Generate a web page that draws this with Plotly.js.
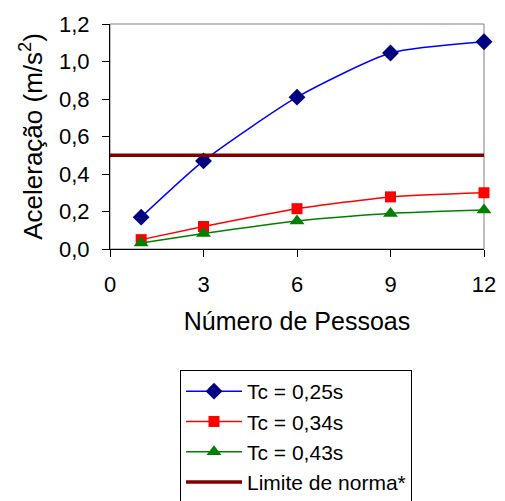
<!DOCTYPE html>
<html><head><meta charset="utf-8">
<script src="https://cdn.plot.ly/plotly-3.0.1.min.js"></script>
<style>body{margin:0;background:#fff}#c{width:505px;height:501px}</style>
</head><body><div id="c"></div>
<script>
const pessoas = [1, 3, 6, 9, 12];
const tc025 = [0.17, 0.47, 0.81, 1.045, 1.105];
const tc034 = [0.05, 0.12, 0.215, 0.278, 0.30];
const tc043 = [0.032, 0.083, 0.15, 0.19, 0.208];
const limiteX = [0, 12];
const limiteY = [0.5, 0.5];
const nomes = ['Tc = 0,25s', 'Tc = 0,34s', 'Tc = 0,43s', 'Limite de norma*'];

const F = 'Liberation Sans, Arial, sans-serif';
const traces = [
  {x: pessoas, y: tc025, name: nomes[0], mode: 'lines+markers', legendgroup: 'a',
   line: {color: '#0000FF', width: 1.5, shape: 'spline', smoothing: 0.6},
   marker: {symbol: 'diamond', size: 13, color: '#000080'}, cliponaxis: false},
  {x: pessoas, y: tc034, name: nomes[1], mode: 'lines+markers', legendgroup: 'b',
   line: {color: '#FF0000', width: 1.5, shape: 'spline', smoothing: 0.6},
   marker: {symbol: 'square', size: 11, color: '#FF0000'}, cliponaxis: false},
  {x: pessoas, y: tc043, name: nomes[2], mode: 'lines+markers', legendgroup: 'c',
   line: {color: '#008000', width: 1.5, shape: 'spline', smoothing: 0.6},
   marker: {symbol: 'triangle-up', size: 13, color: '#008000'}, cliponaxis: false},
  {x: limiteX, y: limiteY, name: nomes[3], mode: 'lines', legendgroup: 'd',
   line: {color: '#800000', width: 3.5}}
];
const layout = {
  width: 505, height: 501,
  margin: {l: 110, r: 21, t: 24, b: 252},
  paper_bgcolor: '#fff', plot_bgcolor: '#fff',
  separators: ',.',
  font: {family: F, color: '#000', size: 21},
  showlegend: true,
  legend: {x: (180 - 110) / 374, y: 1 - 370 / 501, xref: 'paper', yref: 'container',
    xanchor: 'left', yanchor: 'top',
    bordercolor: '#000', borderwidth: 1, bgcolor: '#fff',
    font: {family: F, size: 21}, traceorder: 'grouped', tracegroupgap: 0, itemwidth: 56},
  xaxis: {range: [0, 12], tickvals: [0, 3, 6, 9, 12], showgrid: false, zeroline: false,
    showline: true, linecolor: '#000', linewidth: 1, ticks: 'outside', ticklen: 7, tickcolor: '#000',
    ticklabelstandoff: 9,
    tickfont: {size: 22}, title: {text: 'Número de Pessoas', font: {size: 25}, standoff: 16}},
  yaxis: {range: [0, 1.2], dtick: 0.2, tickformat: '.1f', showgrid: false, zeroline: false,
    showline: true, linecolor: '#000', linewidth: 1, ticks: 'outside', ticklen: 7, tickcolor: '#000',
    ticklabelstandoff: 8,
    tickfont: {size: 22}, title: {text: 'Aceleração (m/s<sup>2</sup>)', font: {size: 26}, standoff: 8}},
  shapes: [{type: 'rect', xref: 'paper', yref: 'paper', x0: 0, x1: 1, y0: 0, y1: 1,
    line: {color: '#808080', width: 1}, layer: 'below'}]
};
Plotly.newPlot('c', traces, layout, {displayModeBar: false, staticPlot: true});
</script></body></html>
